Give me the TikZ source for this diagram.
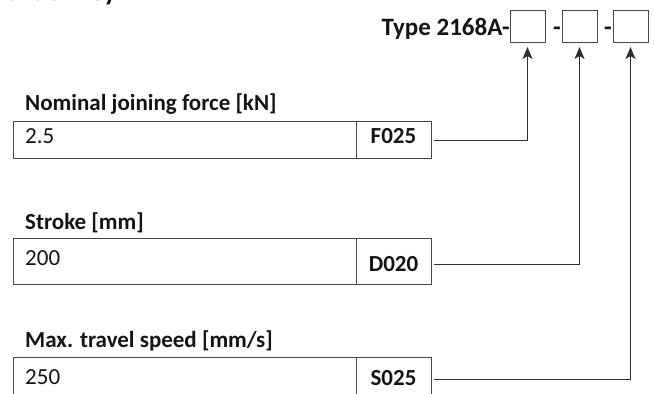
\documentclass[tikz,border=0pt]{standalone}
\usepackage{fontspec}
\setmainfont{Carlito}
\usetikzlibrary{arrows.meta}
\begin{document}
\begin{tikzpicture}[x=1pt,y=-1pt,
  cell/.style={draw=black!72, line width=0.9pt, inner sep=0pt, outer sep=0pt, anchor=north west},
  lbl/.style={font=\fontsize{23}{27}\selectfont\bfseries, anchor=base west, inner sep=0pt, text=black!92},
  toplbl/.style={font=\fontsize{25}{29}\selectfont\bfseries, anchor=base east, inner sep=0pt, text=black!92},
  val/.style={font=\fontsize{23}{27}\selectfont, anchor=base west, inner sep=0pt, text=black!92},
  codetxt/.style={font=\fontsize{23}{27}\selectfont\bfseries, anchor=base, inner sep=0pt, text=black!92},
  conn/.style={draw=black!82, line width=0.85pt},
  arr/.style={conn, -{Stealth[length=12pt,width=10pt,inset=3pt]}, shorten >=5pt}
]
\useasboundingbox (0,0) rectangle (654,394);

% cropped title
\node[font=\fontsize{28}{32}\selectfont\bfseries, anchor=base west, inner sep=0pt, text=black!92] (title) at (3,0.5) {Order key};

% type code
\node[cell, minimum width=35pt, minimum height=32pt] (ta) at (510,10) {};
\node[cell, minimum width=35pt, minimum height=32pt] (tb) at (562,10) {};
\node[cell, minimum width=35pt, minimum height=32pt] (tc) at (613,10) {};
\node[toplbl] (type) at (510,35) {Type 2168A-};
\node[toplbl] (d1) at (561,35) {-};
\node[toplbl] (d2) at (612,35) {-};

% row 1
\node[lbl] (l1) at (25,110) {Nominal joining force [kN]};
\node[cell, minimum width=343pt, minimum height=37pt] (v1) at (13,121) {};
\node[cell, minimum width=75pt, minimum height=37pt] (k1) at (356,121) {};
\node[val] (t1) at (25,143) {2.5};
\node[codetxt] (f1) at (393.5,143) {F025};

% row 2
\node[lbl] (l2) at (25,229) {Stroke [mm]};
\node[cell, minimum width=343pt, minimum height=46pt] (v2) at (13,238) {};
\node[cell, minimum width=75pt, minimum height=46pt] (k2) at (356,238) {};
\node[val] (t2) at (25,265) {200};
\node[codetxt] (f2) at (393.5,271) {D020};

% row 3
\node[lbl] (l3) at (25,347) {Max. travel speed [mm/s]};
\node[cell, minimum width=343pt, minimum height=50pt] (v3) at (13,357) {};
\node[cell, minimum width=75pt, minimum height=50pt] (k3) at (356,357) {};
\node[val] (t3) at (25,384) {250};
\node[codetxt] (f3) at (393.5,385) {S025};

% connectors
\coordinate (c1) at (434,140);
\coordinate (c2) at (434,264);
\coordinate (c3) at (434,379);
\draw[arr] (c1) -| (ta.south);
\draw[arr] (c2) -| (tb.south);
\draw[arr] (c3) -| (tc.south);
\end{tikzpicture}
\end{document}
